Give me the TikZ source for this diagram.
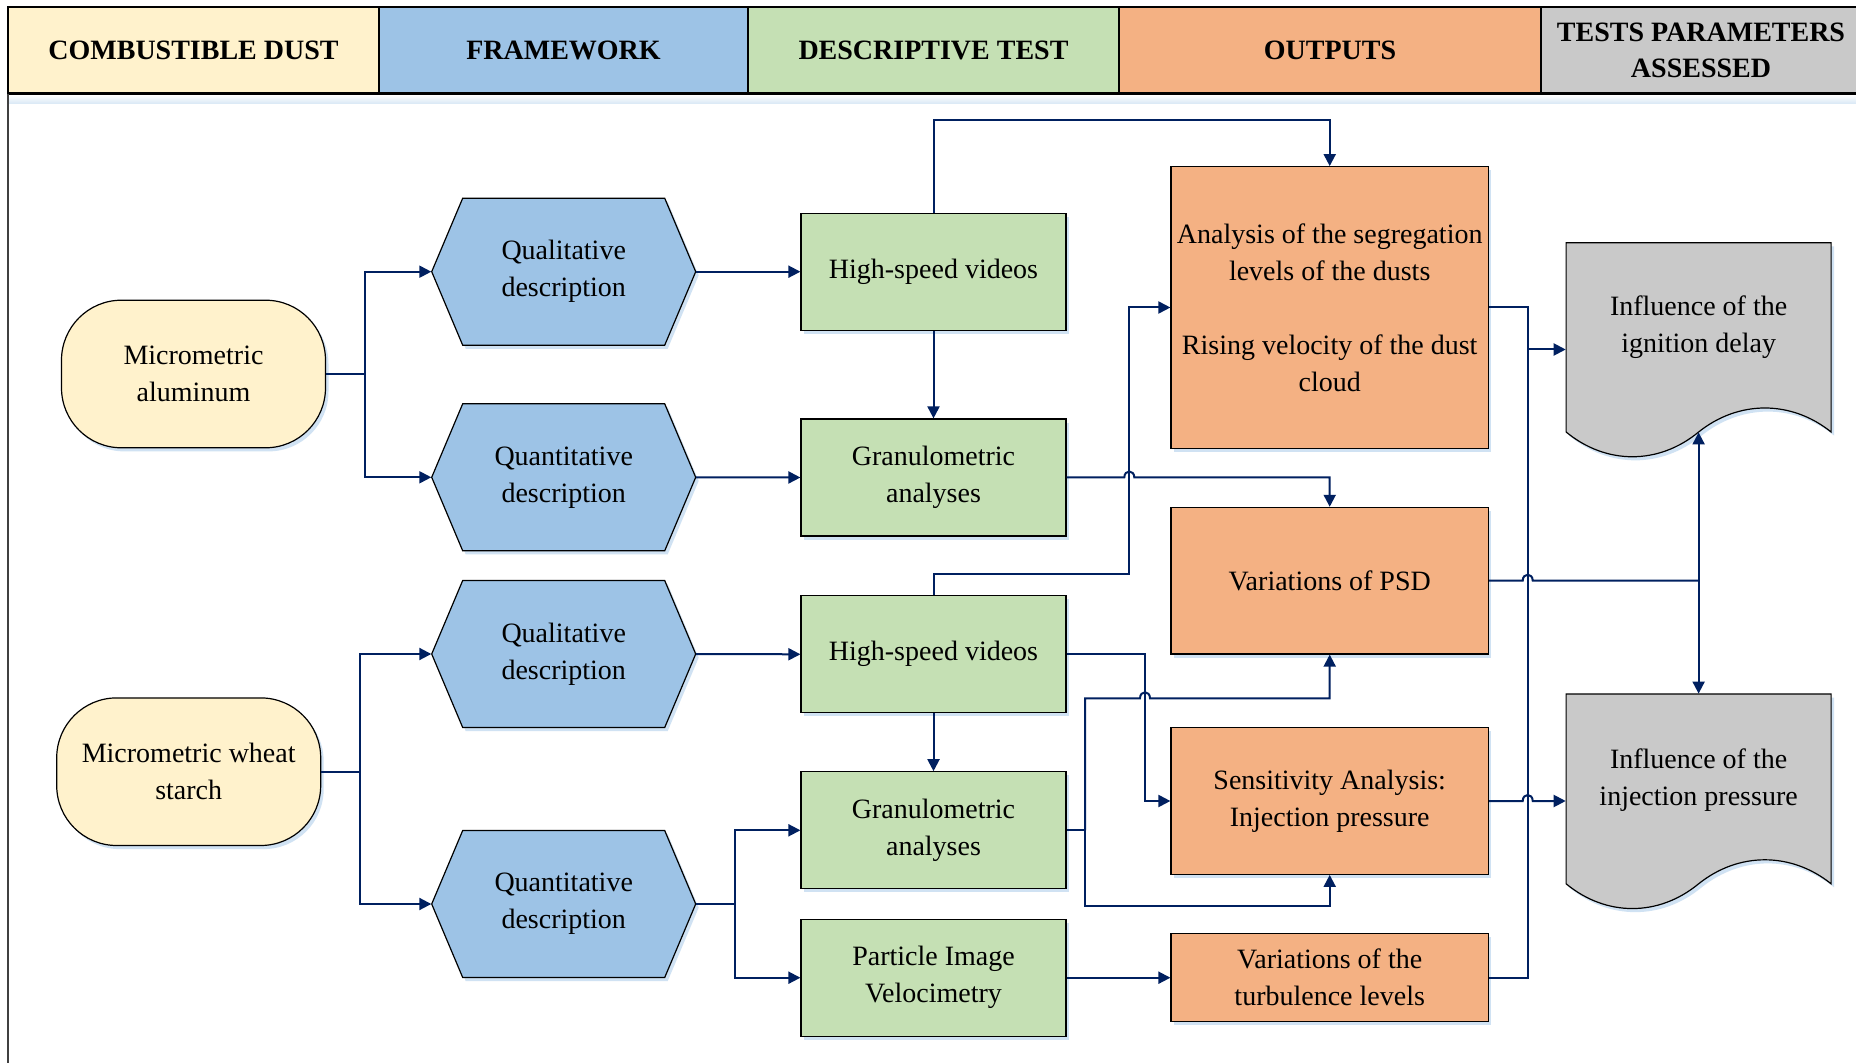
\documentclass[tikz,border=0pt]{standalone}
\usepackage{fontspec}
\setmainfont{Liberation Serif}
\usetikzlibrary{arrows.meta,shadows}
\definecolor{cyel}{HTML}{FFF2CC}
\definecolor{cblue}{HTML}{9DC3E6}
\definecolor{cgreen}{HTML}{C5E0B4}
\definecolor{corange}{HTML}{F4B183}
\definecolor{cgray}{HTML}{C9C9C9}
\definecolor{cline}{HTML}{002060}
\definecolor{cshadow}{HTML}{BDD7EE}
\newcommand\hexnode[4]{%
  \filldraw[shapebody, fill=cblue] ({#2-132},{#3}) -- ({#2-101},{#3-73.5}) -- ({#2+101},{#3-73.5}) -- ({#2+132},{#3}) -- ({#2+101},{#3+73.5}) -- ({#2-101},{#3+73.5}) -- cycle;
  \node[plain, minimum width=132pt, minimum height=73.5pt] (#1) at (#2,#3) {#4};}
\begin{document}
\begin{tikzpicture}[x=0.5pt,y=-0.5pt,
  every node/.style={font=\fontsize{14}{18.5}\selectfont, align=center, text=black},
  plain/.style={inner sep=0pt},
  shade/.style={drop shadow={shadow xshift=1.5pt, shadow yshift=-1.8pt, fill=cshadow, opacity=0.7}},
  shapebody/.style={draw=black, line width=0.6pt, shade},
  box/.style={shapebody, inner sep=0pt},
  gbox/.style={box, fill=cgreen, minimum width=132.5pt, minimum height=58.5pt},
  obox/.style={box, fill=corange, minimum width=158.7pt},
  stad/.style={box, fill=cyel, rounded corners=30pt, minimum width=132pt, minimum height=73.8pt},
  hdr/.style={draw=black, line width=0.6pt, inner sep=0pt, minimum height=43.5pt, font=\fontsize{14}{18.3}\selectfont\bfseries},
  conn/.style={draw=cline, line width=1pt},
  arr/.style={conn, -{Triangle[length=6pt,width=6pt]}}
]
\useasboundingbox (0,0) rectangle (1856,1063);
\fill[white] (0,0) rectangle (1856,1063);

% header
\fill[top color=white, bottom color=cshadow!60] (8,104) rectangle (1856,95);
\node[hdr, fill=cyel, minimum width=185.5pt] (h1) at (193.5,50.5) {COMBUSTIBLE DUST};
\node[hdr, fill=cblue, minimum width=184.5pt] (h2) at (563.5,50.5) {FRAMEWORK};
\node[hdr, fill=cgreen, minimum width=185.5pt] (h3) at (933.5,50.5) {DESCRIPTIVE TEST};
\node[hdr, fill=corange, minimum width=211pt] (h4) at (1330,50.5) {OUTPUTS};
\node[hdr, fill=cgray, minimum width=160pt] (h5) at (1701,50.5) {TESTS PARAMETERS\\ASSESSED};
\draw[line width=1.5pt] (8,94) -- (1856,94);
\draw[line width=1pt, draw=black!75] (8,94) -- (8,1063);

% column 1
\node[stad] (alu) at (193.5,374) {Micrometric\\aluminum};
\node[stad] (wheat) at (188.7,771.7) {Micrometric wheat\\starch};

% column 2
\hexnode{q1}{563.7}{271.7}{Qualitative\\description}
\hexnode{qn1}{563.7}{477.3}{Quantitative\\description}
\hexnode{q2}{563.7}{654}{Qualitative\\description}
\hexnode{qn2}{563.7}{904}{Quantitative\\description}

% column 3
\node[gbox] (hs1) at (933.5,271.7) {High-speed videos};
\node[gbox] (gr1) at (933.5,477.5) {Granulometric\\analyses};
\node[gbox] (hs2) at (933.5,654.3) {High-speed videos};
\node[gbox] (gr2) at (933.5,830.3) {Granulometric\\analyses};
\node[gbox] (piv) at (933.5,977.7) {Particle Image\\Velocimetry};

% column 4
\node[obox, minimum height=140.8pt] (o1) at (1329.7,307.5) {Analysis of the segregation\\levels of the dusts\\[18.5pt]Rising velocity of the dust\\cloud};
\node[obox, minimum height=73.3pt] (o2) at (1329.7,580.7) {Variations of PSD};
\node[obox, minimum height=73.3pt] (o3) at (1329.7,801) {Sensitivity Analysis:\\Injection pressure};
\node[obox, minimum height=44pt] (o4) at (1329.7,977.7) {Variations of the\\turbulence levels};

% column 5 (document shapes)
\filldraw[shapebody, fill=cgray] (1566.1,242.7) -- (1831.1,242.7) -- (1831.1,432) .. controls (1791.1,400) and (1738.6,400) .. (1698.6,432) .. controls (1658.6,465) and (1606.1,465) .. (1566.1,432) -- cycle;
\node[plain, minimum width=132.5pt, minimum height=94.65pt] (doc1) at (1698.6,337.35) {};
\node (doc1t) at (1698.6,327) {Influence of the\\ignition delay};
\filldraw[shapebody, fill=cgray] (1566.1,694) -- (1831.1,694) -- (1831.1,883.8) .. controls (1791.1,851.8) and (1738.6,851.8) .. (1698.6,883.8) .. controls (1658.6,916.8) and (1606.1,916.8) .. (1566.1,883.8) -- cycle;
\node[plain, minimum width=132.5pt, minimum height=94.9pt] (doc2) at (1698.6,788.9) {};
\node (doc2t) at (1698.6,780) {Influence of the\\injection pressure};

% junctions
\coordinate (aj) at (365,374);
\coordinate (wj) at (360,771.7);
\coordinate (qj) at (735,904);
\coordinate (g2j) at (1085,830.3);
\coordinate (bx) at (1527.7,0);
\coordinate (pj) at (1698.6,580.7);

% connectors column 1 -> 2
\draw[conn] (alu.east) -- (aj);
\draw[arr] (aj) |- (q1.west);
\draw[arr] (aj) |- (qn1.west);
\draw[conn] (wheat.east) -- (wj);
\draw[arr] (wj) |- (q2.west);
\draw[arr] (wj) |- (qn2.west);

% column 2 -> 3
\draw[arr] (q1.east) -- (hs1.west);
\draw[arr] (qn1.east) -- (gr1.west);
\draw[arr] (q2.east) -- (hs2.west);
\draw[conn] (qn2.east) -- (qj);
\draw[arr] (qj) |- (gr2.west);
\draw[arr] (qj) |- (piv.west);
\draw[arr] (hs1.south) -- (gr1.north);
\draw[arr] (hs2.south) -- (gr2.north);

% column 3 -> 4
\draw[arr] (hs1.north) -- (933.5,120) -| (o1.north);
\draw[arr] (gr1.east) -- (1124.3,477.5) .. controls (1124.3,469.5) and (1134.3,469.5) .. (1134.3,477.5) -| (o2.north);
\draw[arr] (hs2.north) -- (933.5,574) -- (1129.3,574) |- (o1.west);
\draw[arr] (hs2.east) -- (1145,654.3) |- (o3.west);
\draw[conn] (gr2.east) -- (g2j);
\draw[arr] (g2j) -- (1085,698.3) -- (1140,698.3) .. controls (1140,690.3) and (1150,690.3) .. (1150,698.3) -| (o2.south);
\draw[arr] (g2j) -- (1085,906) -| (o3.south);
\draw[arr] (piv.east) -- (o4.west);

% column 4 -> 5
\draw[conn] (o1.east) -- (o1.east -| bx) -- (o4.east -| bx) -- (o4.east);
\draw[arr] (bx |- 0,349.5) -- (doc1.west |- 0,349.5);
\draw[conn] (o2.east) -- (1522.7,580.7) .. controls (1522.7,572.7) and (1532.7,572.7) .. (1532.7,580.7) -- (pj);
\draw[arr] (pj) -- (doc1.south);
\draw[arr] (pj) -- (doc2.north);
\draw[arr] (o3.east) -- (1522.7,801) .. controls (1522.7,793) and (1532.7,793) .. (1532.7,801) -- (doc2.west |- o3.east);
\end{tikzpicture}
\end{document}
